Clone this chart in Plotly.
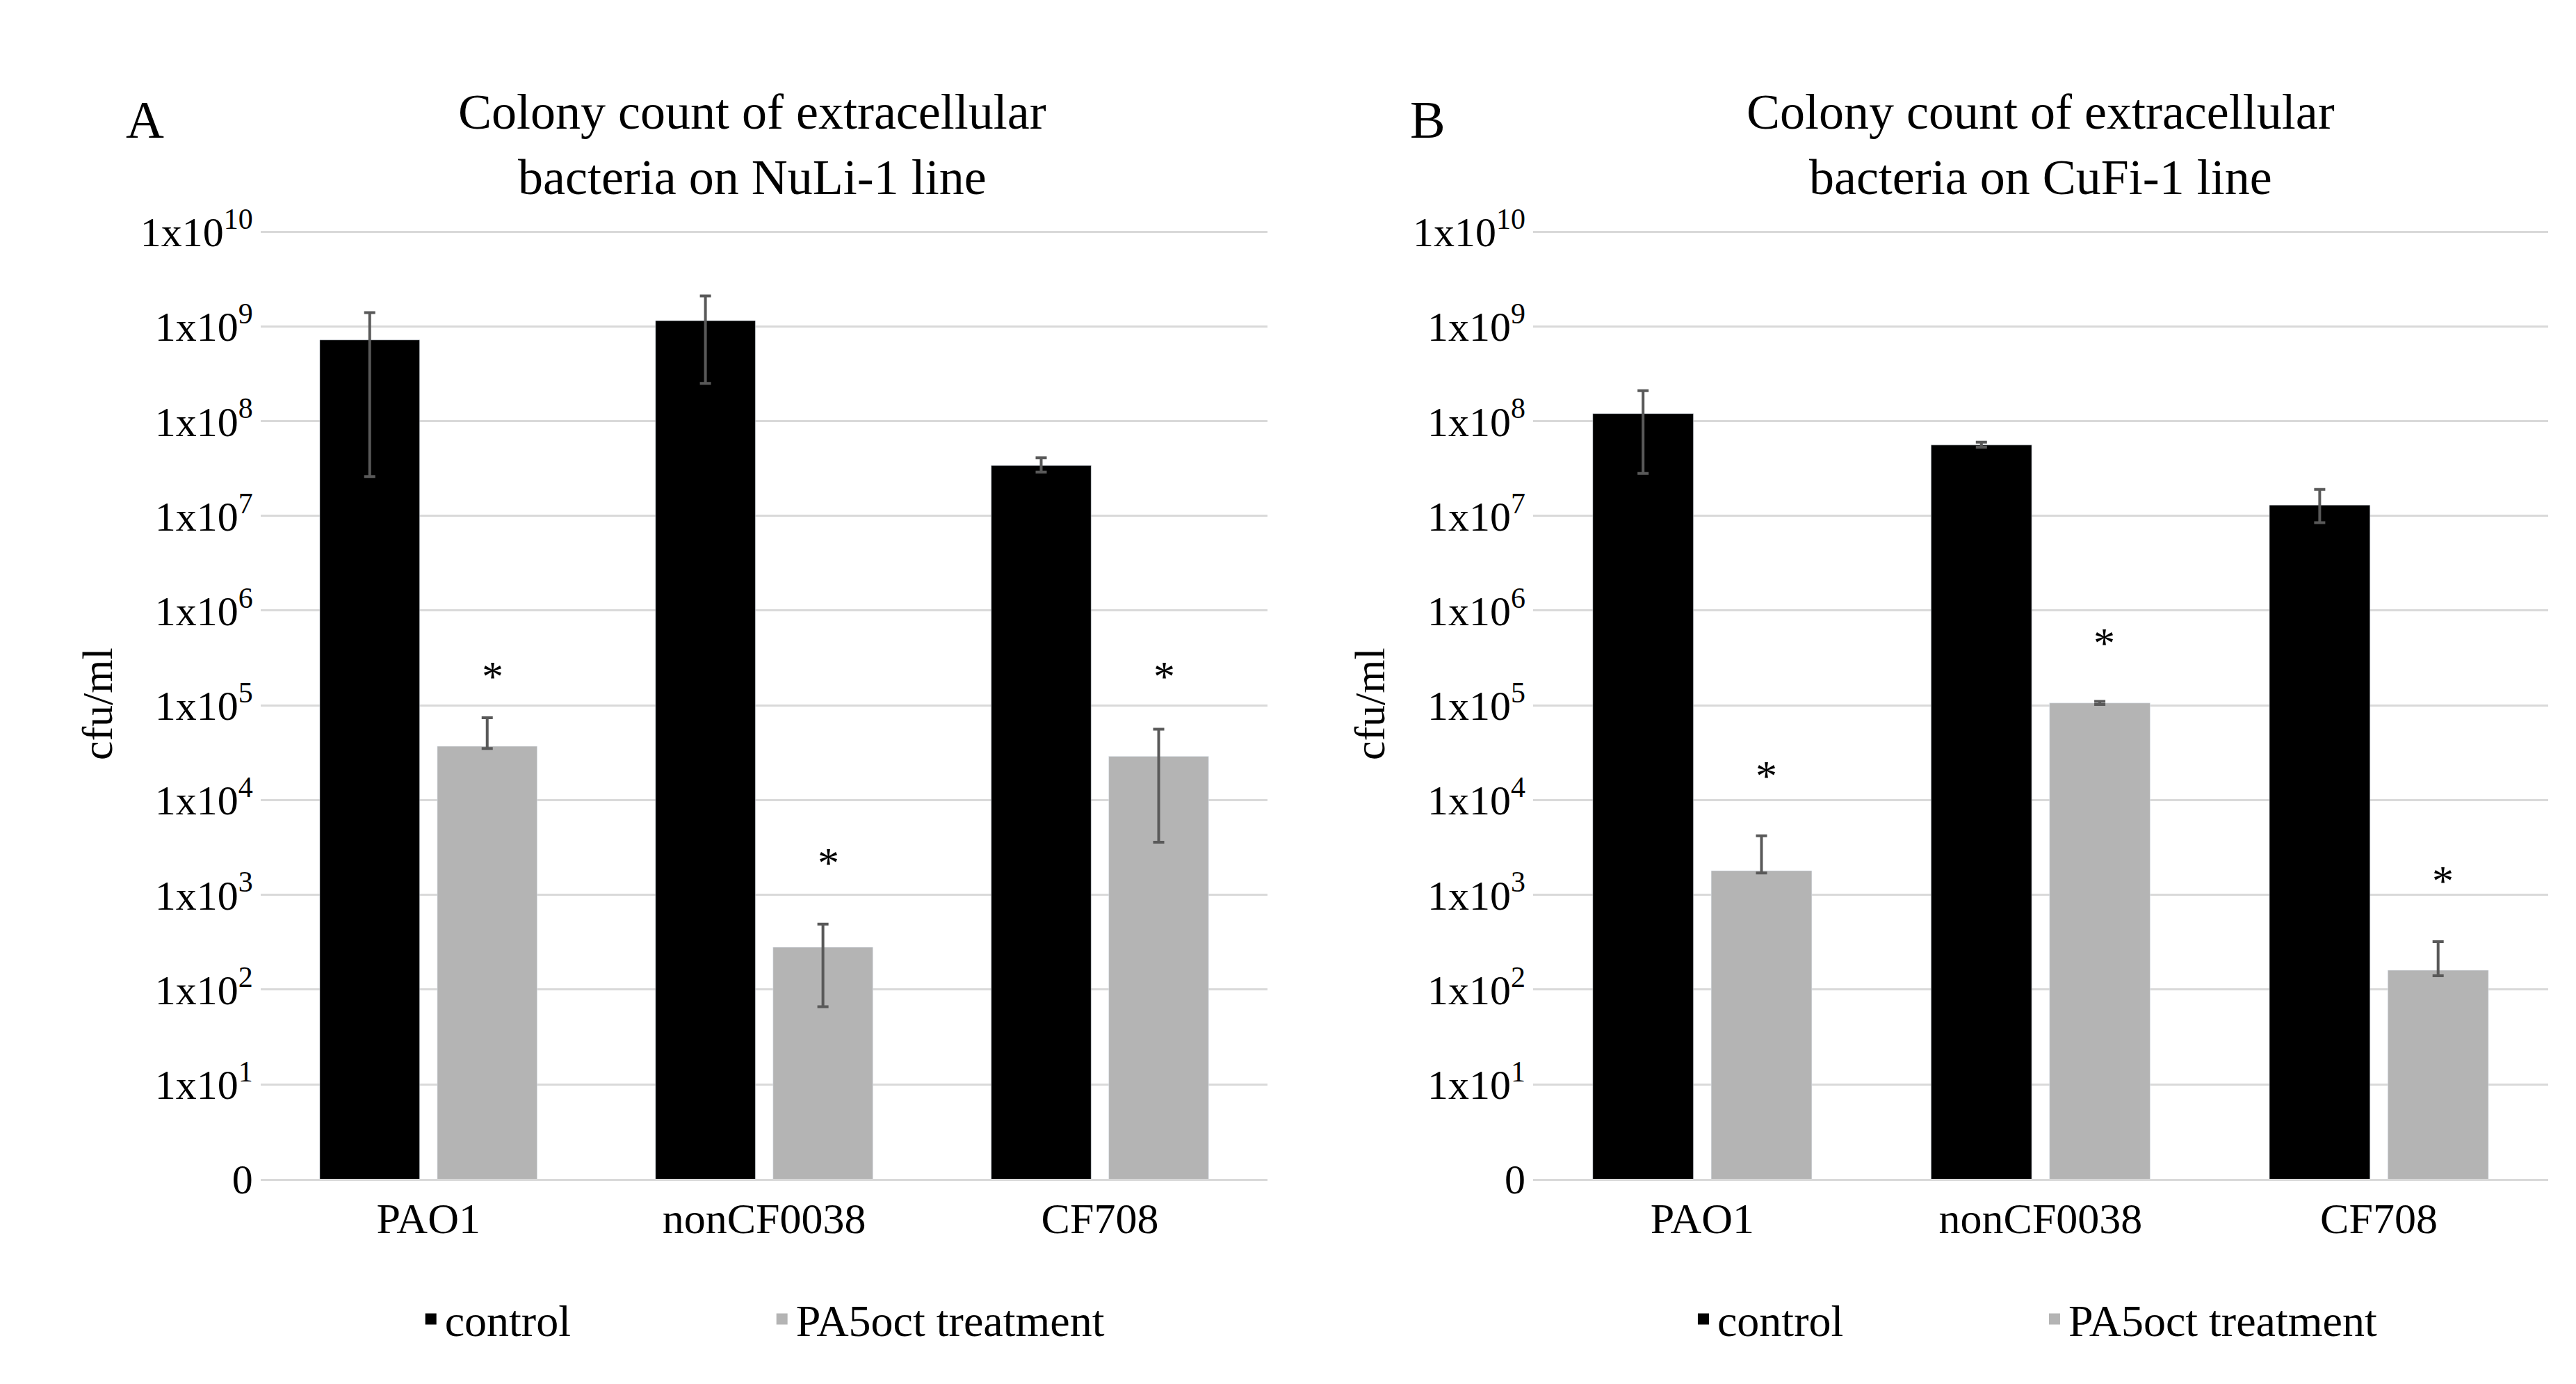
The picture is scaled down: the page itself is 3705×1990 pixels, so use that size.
import plotly.graph_objects as go

categories = ["PAO1", "nonCF0038", "CF708"]

a_control = [7.2e8, 1.15e9, 3.4e7]
a_control_up = [1.4e9, 2.1e9, 4.1e7]
a_control_lo = [2.6e7, 2.5e8, 2.9e7]
a_treat = [3.7e4, 2.8e2, 2.9e4]
a_treat_up = [7.4e4, 4.9e2, 5.6e4]
a_treat_lo = [3.5e4, 66, 3.6e3]
a_star = [5.31, 3.34, 5.31]

b_control = [1.2e8, 5.6e7, 1.3e7]
b_control_up = [2.1e8, 6.0e7, 1.9e7]
b_control_lo = [2.8e7, 5.3e7, 8.5e6]
b_treat = [1.8e3, 1.06e5, 1.6e2]
b_treat_up = [4.2e3, 1.1e5, 3.2e2]
b_treat_lo = [1.7e3, 1.02e5, 1.4e2]
b_star = [4.26, 5.66, 3.15]

tickvals = [10 ** i for i in range(11)]
ticktext = ["0"] + ["1x10<sup>%d</sup>" % i for i in range(1, 11)]

FONT = "Liberation Serif"
fig = go.Figure()

def err(vals, up, lo, color):
    return dict(type="data", symmetric=False,
                array=[u - v for u, v in zip(up, vals)],
                arrayminus=[v - l for v, l in zip(vals, lo)],
                color=color, thickness=4, width=8)

for (ctrl, cu, cl, tr, tu, tl, xa, ya, leg) in [
    (a_control, a_control_up, a_control_lo, a_treat, a_treat_up, a_treat_lo, "x", "y", "legend"),
    (b_control, b_control_up, b_control_lo, b_treat, b_treat_up, b_treat_lo, "x2", "y2", "legend2"),
]:
    fig.add_trace(go.Bar(x=categories, y=ctrl, name="control", marker_color="black",
                         error_y=err(ctrl, cu, cl, "#595959"), xaxis=xa, yaxis=ya, showlegend=False))
    fig.add_trace(go.Bar(x=categories, y=tr, name="PA5oct treatment", marker_color="#b4b4b4",
                         error_y=err(tr, tu, tl, "#595959"), xaxis=xa, yaxis=ya, showlegend=False))
    for name, col in [("control", "black"), ("PA5oct treatment", "#b4b4b4")]:
        fig.add_trace(go.Scatter(x=[None], y=[None], mode="markers", name=name,
                                 marker=dict(symbol="square", size=46, color=col),
                                 xaxis=xa, yaxis=ya, legend=leg))

for stars, xr, yr in [(a_star, "x", "y"), (b_star, "x2", "y2")]:
    for i, s in enumerate(stars):
        fig.add_annotation(x=i, y=s, xref=xr, yref=yr, text="*", showarrow=False,
                           xshift=92, font=dict(size=62, family=FONT, color="black"))

yax = dict(type="log", range=[0, 10.03], tickvals=tickvals, ticktext=ticktext,
           showgrid=True, gridcolor="#d9d9d9", gridwidth=3, zeroline=False, showline=False,
           tickfont=dict(size=60, family=FONT, color="black"), ticks="", ticklabelstandoff=10)
xax = dict(showline=True, linecolor="#d9d9d9", linewidth=3, ticks="",
           tickfont=dict(size=62, family=FONT, color="black"))

fig.update_layout(
    width=3705, height=1990, paper_bgcolor="white", plot_bgcolor="white",
    margin=dict(l=0, r=0, t=0, b=0),
    barmode="group", bargap=0.3, bargroupgap=0.15,
    xaxis=dict(domain=[0.099, 0.49], anchor="y", **xax),
    yaxis=dict(domain=[0.14, 0.852], anchor="x",
               title=dict(text="cfu/ml", font=dict(size=62, family=FONT, color="black"), standoff=20), **yax),
    xaxis2=dict(domain=[0.593, 0.987], anchor="y2", **xax),
    yaxis2=dict(domain=[0.14, 0.852], anchor="x2",
                title=dict(text="cfu/ml", font=dict(size=62, family=FONT, color="black"), standoff=20), **yax),
    legend=dict(orientation="h", x=0.296, xanchor="center", y=0.035, yanchor="middle",
                font=dict(size=64, family=FONT, color="black"), entrywidth=460),
    legend2=dict(orientation="h", x=0.79, xanchor="center", y=0.035, yanchor="middle",
                 font=dict(size=64, family=FONT, color="black"), entrywidth=460),
    showlegend=True,
)

for txt, x in [("Colony count of extracellular<br>bacteria on NuLi-1 line", 0.29),
               ("Colony count of extracellular<br>bacteria on CuFi-1 line", 0.79)]:
    fig.add_annotation(x=x, y=0.915, xref="paper", yref="paper", text=txt, showarrow=False,
                       xanchor="center", align="center",
                       font=dict(size=72, family=FONT, color="black"), yanchor="middle")
for txt, x in [("A", 0.054), ("B", 0.552)]:
    fig.add_annotation(x=x, y=0.957, xref="paper", yref="paper", text=txt, showarrow=False,
                       xanchor="center", font=dict(size=76, family=FONT, color="black"))

fig.write_html("out.html")
